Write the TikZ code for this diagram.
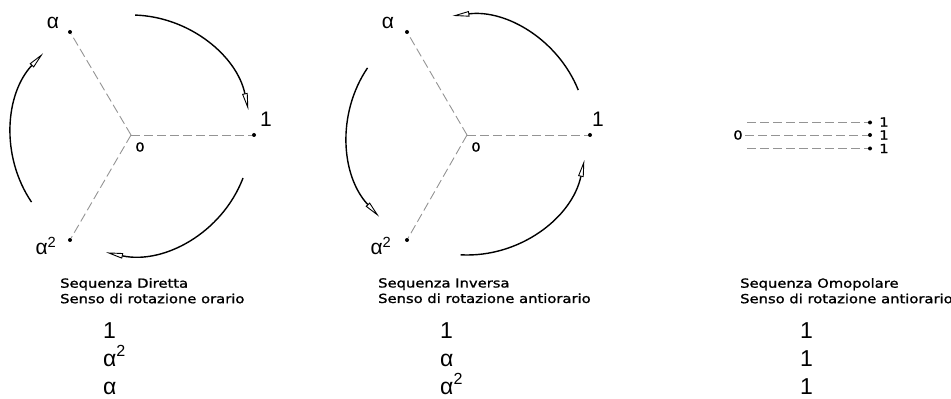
\documentclass[tikz,border=0pt]{standalone}
\usepackage{fontspec}
\setmainfont{Liberation Sans}
\newfontfamily\cadfont[FakeStretch=1.18, FakeBold=1.3]{DejaVu Sans}
\usetikzlibrary{arrows.meta}
\tikzset{
  dline/.style={draw=black!42, line width=0.9pt, dash pattern=on 9pt off 4pt},
  pt/.style={circle, fill=black, inner sep=0pt, minimum size=4pt},
  arcline/.style={line width=1.4pt, -{Triangle[open, length=17pt, width=5.5pt, line width=0.9pt]}},
  lab/.style={font=\fontsize{21}{21}\selectfont, inner sep=0pt},
  col/.style={font=\fontsize{23}{28}\selectfont, inner sep=0pt, anchor=north west, align=left},
  cad/.style={font=\cadfont\fontsize{12.5}{15}\selectfont, inner sep=0pt},
  cadtxt/.style={font=\cadfont\fontsize{12.5}{15.5}\selectfont, inner sep=0pt, anchor=north west, align=left}
}
\begin{document}
\begin{tikzpicture}[x=1pt,y=1pt]
\useasboundingbox (0,0) rectangle (951,399);
% ---------- Diagram 1: Sequenza Diretta ----------
\coordinate (o1) at (131,264);
\node[pt] (d1a) at (254,264) {};
\node[pt] (d1b) at (70,367) {};
\node[pt] (d1c) at (70,159) {};
\draw[dline] (o1) -- (d1a);
\draw[dline] (o1) -- (d1b);
\draw[dline] (o1) -- (d1c);
\node[lab] (l1a) at (266,280) {1};
\node[lab] (l1b) at (53,376) {α};
\node[lab] (l1c) at (46,153) {α\textsuperscript{2}};
\node[cad] (l1o) at (140,252) {0};
\draw[arcline] ([shift={(88:120)}]o1) arc[start angle=88, end angle=12, radius=120];
\draw[arcline] ([shift={(-21:120)}]o1) arc[start angle=-21, end angle=-102, radius=120];
\draw[arcline] ([shift={(214:120)}]o1) arc[start angle=214, end angle=137, radius=120];
\node[cadtxt] (t1) at (60,121) {Sequenza Diretta\\Senso di rotazione orario};
\node[col] (c1) at (103,77) {1\\α\textsuperscript{2}\\α};
% ---------- Diagram 2: Sequenza Inversa ----------
\coordinate (o2) at (467,264);
\node[pt] (d2a) at (590,264) {};
\node[pt] (d2b) at (407,367) {};
\node[pt] (d2c) at (407,159) {};
\draw[dline] (o2) -- (d2a);
\draw[dline] (o2) -- (d2b);
\draw[dline] (o2) -- (d2c);
\node[lab] (l2a) at (598,280) {1};
\node[lab] (l2b) at (388,376) {α};
\node[lab] (l2c) at (381,153) {α\textsuperscript{2}};
\node[cad] (l2o) at (476,252) {0};
\draw[arcline] ([shift={(22:120)}]o2) arc[start angle=22, end angle=97, radius=120];
\draw[arcline] ([shift={(146:120)}]o2) arc[start angle=146, end angle=223, radius=120];
\draw[arcline] ([shift={(267:120)}]o2) arc[start angle=267, end angle=348, radius=120];
\node[cadtxt] (t2) at (378,121) {Sequenza Inversa\\Senso di rotazione antiorario};
\node[col] (c2) at (440,77) {1\\α\\α\textsuperscript{2}};
% ---------- Diagram 3: Sequenza Omopolare ----------
\coordinate (s3a) at (747,276.5);
\coordinate (s3b) at (745,264);
\coordinate (s3c) at (747,250.5);
\node[pt] (d3a) at (870,276.5) {};
\node[pt] (d3b) at (870,264) {};
\node[pt] (d3c) at (870,250.5) {};
\draw[dline] (s3a) -- (d3a);
\draw[dline] (s3b) -- (d3b);
\draw[dline] (s3c) -- (d3c);
\node[cad] (l3o) at (738,264) {0};
\node[cad] (l3a) at (884,277) {1};
\node[cad] (l3b) at (884,264) {1};
\node[cad] (l3c) at (884,250.5) {1};
\node[cadtxt] (t3) at (740,121) {Sequenza Omopolare\\Senso di rotazione antiorario};
\node[col] (c3) at (800,77) {1\\1\\1};
\end{tikzpicture}
\end{document}
